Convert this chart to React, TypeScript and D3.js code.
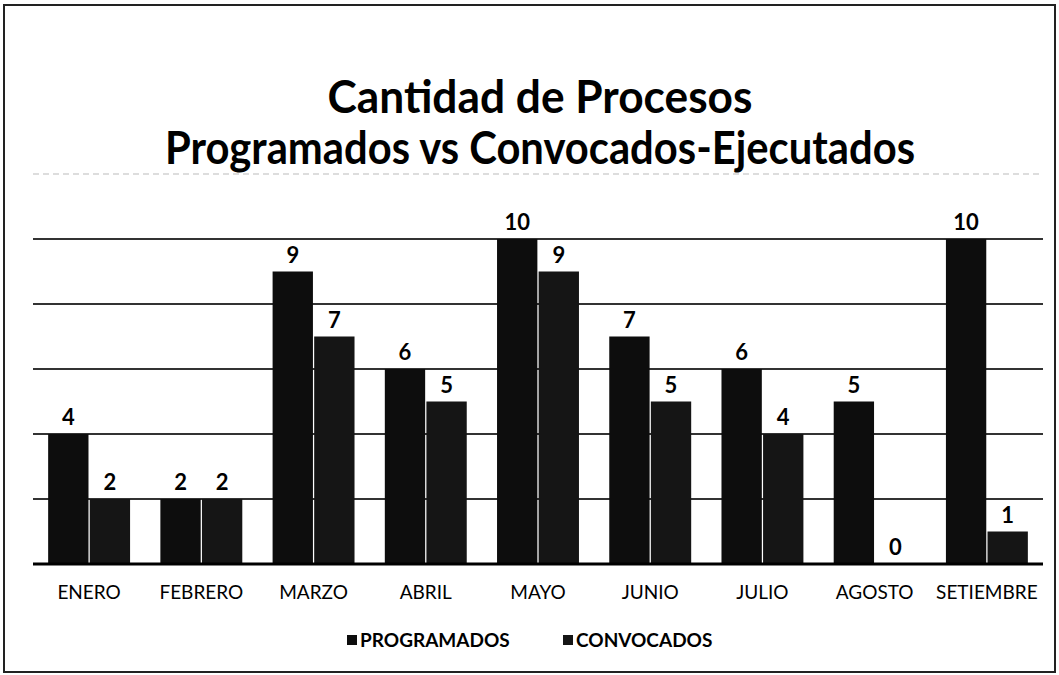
import React from "react";
import * as d3 from "d3";

const categories = ["ENERO", "FEBRERO", "MARZO", "ABRIL", "MAYO", "JUNIO", "JULIO", "AGOSTO", "SETIEMBRE"];
const programados = [4, 2, 9, 6, 10, 7, 6, 5, 10];
const convocados = [2, 2, 7, 5, 9, 5, 4, 0, 1];
const seriesNames = ["PROGRAMADOS", "CONVOCADOS"];
const yTicks = [0, 2, 4, 6, 8, 10, 12];
const titleLines = ["Cantidad de Procesos", "Programados vs Convocados-Ejecutados"];

const W = 1059;
const H = 675;
const FONT = "Lato, 'Open Sans', sans-serif";

export default function App() {
  const x0 = d3.scaleBand<string>().domain(categories).range([33, 1043]).paddingInner(0.27).paddingOuter(0.135);
  const x1 = d3.scaleBand<string>().domain(seriesNames).range([0, x0.bandwidth()]).paddingInner(0.03);
  const y = d3.scaleLinear().domain([0, 12]).range([564, 174]);
  const series = [programados, convocados];
  const colors = ["#0d0d0d", "#151515"];
  const titleWidths = [425, 750];

  return (
    <svg width={W} height={H} style={{ position: "absolute", left: 0, top: 0, background: "#fff" }}>
      <rect x={0} y={0} width={W} height={H} fill="#fff" />
      <rect x={4} y={5} width={W - 8} height={H - 8} fill="none" stroke="#222" strokeWidth={2} />
      {/* title */}
      {titleLines.map((t, i) => (
        <text
          key={t}
          x={540 - titleWidths[i] / 2}
          y={113 + i * 51}
          fontFamily={FONT}
          fontWeight={700}
          fontSize={45}
          textLength={titleWidths[i]}
          lengthAdjust="spacingAndGlyphs"
          fill="#000"
        >
          {t}
        </text>
      ))}
      {/* gridlines */}
      {yTicks.slice(1).map((v) => (
        <line key={v} x1={33} x2={1043} y1={y(v)} y2={y(v)} stroke={v === 12 ? "#bbb" : "#333"} strokeWidth={v === 12 ? 1 : 2} strokeDasharray={v === 12 ? "6 4" : undefined} />
      ))}
      {/* bars */}
      {categories.map((c, i) => (
        <g key={c} transform={`translate(${x0(c)},0)`}>
          {seriesNames.map((s, j) => {
            const v = series[j][i];
            const bx = x1(s)!;
            return (
              <g key={s}>
                <rect x={bx} y={y(v)} width={x1.bandwidth()} height={y(0) - y(v)} fill={colors[j]} />
                <text x={bx + x1.bandwidth() / 2} y={y(v) - 9} textAnchor="middle" fontFamily={FONT} fontWeight={700} fontSize={22} fill="#000">
                  {v}
                </text>
              </g>
            );
          })}
        </g>
      ))}
      {/* axis */}
      <line x1={33} x2={1043} y1={y(0)} y2={y(0)} stroke="#000" strokeWidth={3} />
      {categories.map((c) => (
        <text key={c} x={x0(c)! + x0.bandwidth() / 2} y={599} textAnchor="middle" fontFamily={FONT} fontSize={19} fill="#000">
          {c}
        </text>
      ))}
      {/* legend */}
      {seriesNames.map((s, j) => {
        const lx = j === 0 ? 347 : 563;
        return (
          <g key={s}>
            <rect x={lx} y={635} width={10} height={10} fill={colors[j]} />
            <text x={lx + 13} y={647} fontFamily={FONT} fontWeight={700} fontSize={19} fill="#000">
              {s}
            </text>
          </g>
        );
      })}
    </svg>
  );
}
